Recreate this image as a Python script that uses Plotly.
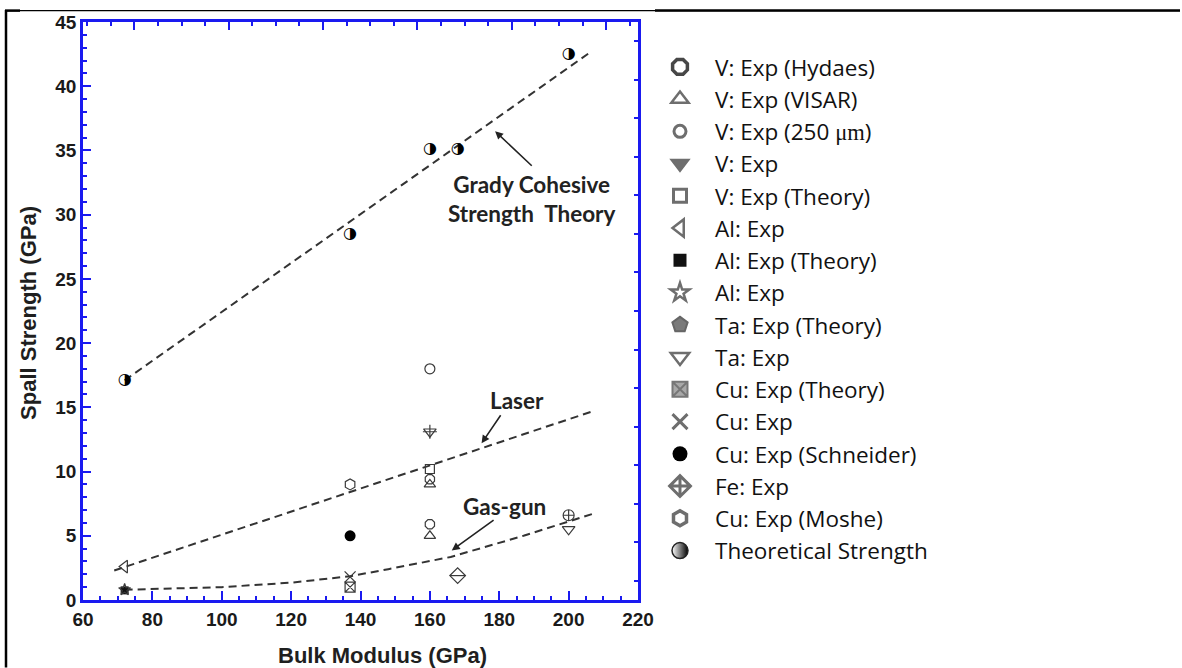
import plotly.graph_objects as go

# ---- data: bulk modulus (GPa) vs spall strength (GPa) ----
theo_x = [72, 137, 160, 168, 200]
theo_y = [17.1, 28.5, 35.1, 35.1, 42.5]

v_hydaes_x = [160, 160]
v_hydaes_y = [9.4, 5.9]
v_visar_x = [160, 160]
v_visar_y = [9.0, 5.0]
v_250_x = [160]
v_250_y = [18.0]
v_exp_x = [160]
v_exp_y = [13.1]
v_theory_x = [160]
v_theory_y = [10.2]
al_exp_x = [72]
al_exp_y = [2.6]
al_theory_x = [72]
al_theory_y = [0.75]
al_star_x = [72]
al_star_y = [0.8]
ta_theory_x = [200]
ta_theory_y = [6.6]
ta_exp_x = [200]
ta_exp_y = [5.5]
cu_theory_x = [137]
cu_theory_y = [1.0]
cu_exp_x = [137]
cu_exp_y = [1.8]
cu_schneider_x = [137]
cu_schneider_y = [5.0]
fe_exp_x = [168]
fe_exp_y = [1.9]
cu_moshe_x = [137]
cu_moshe_y = [9.0]

# trend curves
grady_x = [72, 206]
grady_y = [17.1, 42.6]
laser_x = [69, 207]
laser_y = [2.3, 14.7]
gasgun_x = [72, 100, 120, 137, 148, 166, 187, 208]
gasgun_y = [0.8, 1.0, 1.35, 1.85, 2.4, 3.35, 5.0, 6.8]

x_range = [60, 220]
y_range = [0, 45]

BLUE = "#1a1af0"
MK = "#3a3a3a"
LG = "#6e6e6e"

fig = go.Figure()

# dashed trend lines
for lx, ly in [(grady_x, grady_y), (laser_x, laser_y), (gasgun_x, gasgun_y)]:
    fig.add_trace(go.Scatter(x=lx, y=ly, mode="lines", showlegend=False,
                             line=dict(color="#333333", width=2, dash="8px,5px"),
                             hoverinfo="skip"))

# series: name, x, y, plot marker, legend marker
series = [
    ("V: Exp (Hydaes)", v_hydaes_x, v_hydaes_y,
     dict(symbol="octagon-open", size=10, color=MK, line=dict(width=1.2)),
     dict(symbol="octagon-open", size=16, color="#474747", line=dict(width=3.5))),
    ("V: Exp (VISAR)", v_visar_x, v_visar_y,
     dict(symbol="triangle-up-open", size=10, color=MK, line=dict(width=1.2)),
     dict(symbol="triangle-up-open", size=15, color=LG, line=dict(width=2.5))),
    ("V: Exp (250 <span style='font-family:Liberation Serif'>μm</span>)", v_250_x, v_250_y,
     dict(symbol="circle-open", size=10, color=MK, line=dict(width=1.2)),
     dict(symbol="circle-open", size=12, color=LG, line=dict(width=3))),
    ("V: Exp", v_exp_x, v_exp_y,
     dict(symbol="triangle-down-open", size=11, color=MK, line=dict(width=1.2)),
     dict(symbol="triangle-down", size=15, color=LG, line=dict(width=2, color=LG))),
    ("V: Exp (Theory)", v_theory_x, v_theory_y,
     dict(symbol="square-open", size=9, color=MK, line=dict(width=1.2)),
     dict(symbol="square-open", size=13, color=LG, line=dict(width=3))),
    ("Al: Exp", al_exp_x, al_exp_y,
     dict(symbol="triangle-left-open", size=11, color=MK, line=dict(width=1.2)),
     dict(symbol="triangle-left-open", size=15, color=LG, line=dict(width=2.5))),
    ("Al: Exp (Theory)", al_theory_x, al_theory_y,
     dict(symbol="square", size=8, color="#111111"),
     dict(symbol="square", size=13, color="#111111")),
    ("Al: Exp", al_star_x, al_star_y,
     dict(symbol="star-open", size=9, color=MK, line=dict(width=1.2)),
     dict(symbol="star-open", size=14, color=LG, line=dict(width=2.5))),
    ("Ta: Exp (Theory)", ta_theory_x, ta_theory_y,
     dict(symbol="circle-cross-open", size=11, color=MK, line=dict(width=1.2)),
     dict(symbol="pentagon", size=16, color="#7a7a7a", line=dict(width=2, color="#666666"))),
    ("Ta: Exp", ta_exp_x, ta_exp_y,
     dict(symbol="triangle-down-open", size=11, color=MK, line=dict(width=1.2)),
     dict(symbol="triangle-down-open", size=16, color=LG, line=dict(width=2.5))),
    ("Cu: Exp (Theory)", cu_theory_x, cu_theory_y,
     dict(symbol="square-x-open", size=10, color=MK, line=dict(width=1.2)),
     dict(symbol="square-x", size=15, color="#a8a8a8", line=dict(width=2, color="#777777"))),
    ("Cu: Exp", cu_exp_x, cu_exp_y,
     dict(symbol="x-thin-open", size=11, color=MK, line=dict(width=1.3)),
     dict(symbol="x-thin-open", size=15, color=LG, line=dict(width=3))),
    ("Cu: Exp (Schneider)", cu_schneider_x, cu_schneider_y,
     dict(symbol="circle", size=11, color="#000000"),
     dict(symbol="circle", size=15, color="#000000")),
    ("Fe: Exp", fe_exp_x, fe_exp_y,
     dict(symbol="diamond-open", size=12, color=MK, line=dict(width=1.2)),
     dict(symbol="diamond-cross-open", size=16, color=LG, line=dict(width=3))),
    ("Cu: Exp (Moshe)", cu_moshe_x, cu_moshe_y,
     dict(symbol="hexagon-open", size=11, color=MK, line=dict(width=1.2)),
     dict(symbol="hexagon-open", size=15, color=LG, line=dict(width=3.5))),
]

for i, (name, sx, sy, pm, lm) in enumerate(series):
    grp = f"g{i}"
    fig.add_trace(go.Scatter(x=sx, y=sy, mode="markers", marker=pm, name=name,
                             legendgroup=grp, showlegend=False))
    fig.add_trace(go.Scatter(x=[None], y=[None], mode="markers", marker=lm,
                             name=name, legendgroup=grp, showlegend=True))
    # extra strokes for the composite symbols
    if name == "V: Exp":
        fig.add_trace(go.Scatter(x=sx, y=sy, mode="markers", legendgroup=grp, showlegend=False,
                                 marker=dict(symbol="cross-thin-open", size=10, color=MK,
                                             line=dict(width=1.2))))
    if name == "Fe: Exp":
        fig.add_trace(go.Scatter(x=sx, y=sy, mode="markers", legendgroup=grp, showlegend=False,
                                 marker=dict(symbol="line-ew-open", size=11, color=MK,
                                             line=dict(width=1.2))))

# theoretical strength: half-filled circles
fig.add_trace(go.Scatter(x=theo_x, y=theo_y, mode="text", text=["◑"] * len(theo_x),
                         textfont=dict(family="DejaVu Sans", size=16, color="#000000"),
                         legendgroup="theo", showlegend=False, name="Theoretical Strength"))
fig.add_trace(go.Scatter(x=[None], y=[None], mode="markers", name="Theoretical Strength",
                         legendgroup="theo", showlegend=True,
                         marker=dict(symbol="circle", size=16, color="#ffffff",
                                     gradient=dict(type="horizontal", color="#000000"),
                                     line=dict(width=1.5, color="#222222"))))

# companion subplot carrying the top/right frame axes
fig.add_trace(go.Scatter(x=[None], y=[None], xaxis="x2", yaxis="y2", showlegend=False))

tick_font = dict(family="Liberation Sans", size=19, color="#1a1a1a", weight="bold")

fig.update_layout(
    width=1182, height=668,
    margin=dict(l=83, r=544, t=17, b=68),
    paper_bgcolor="white", plot_bgcolor="white",
    xaxis=dict(range=x_range, showgrid=False, zeroline=False, showline=True,
               linecolor=BLUE, linewidth=2.5, ticks="inside", ticklen=9, tickwidth=2,
               tickcolor=BLUE, tick0=60, dtick=20, tickfont=tick_font,
               minor=dict(ticks="inside", dtick=5, ticklen=4, tickwidth=1.5, tickcolor=BLUE)),
    yaxis=dict(range=y_range, showgrid=False, zeroline=False, showline=True,
               linecolor=BLUE, linewidth=2.5, ticks="inside", ticklen=8, tickwidth=2,
               tickcolor=BLUE, tick0=0, dtick=5, tickfont=tick_font,
               minor=dict(ticks="inside", dtick=1, ticklen=4, tickwidth=1.5, tickcolor=BLUE)),
    xaxis2=dict(range=x_range, overlaying="x", side="top", anchor="y2", showgrid=False,
                zeroline=False, showline=True, linecolor=BLUE, linewidth=2.5,
                ticks="inside", ticklen=8, tickwidth=2, tickcolor=BLUE,
                tick0=74.8, dtick=27.2, showticklabels=False,
                minor=dict(ticks="inside", tick0=61.2, dtick=6.8, ticklen=4,
                           tickwidth=1.5, tickcolor=BLUE)),
    yaxis2=dict(range=y_range, overlaying="y", side="right", anchor="x2", showgrid=False,
                zeroline=False, showline=True, linecolor=BLUE, linewidth=2.5,
                ticks="inside", ticklen=4, tickwidth=1.5, tickcolor=BLUE,
                tick0=1.5, dtick=3, showticklabels=False),
    legend=dict(x=1.0126, xanchor="left", y=0.959, yanchor="top",
                font=dict(family="Open Sans", size=22.5, color="#111111"),
                itemwidth=60, itemsizing="trace", tracegroupgap=0,
                bgcolor="rgba(0,0,0,0)"),
    showlegend=True,
)

title_font = dict(family="Liberation Sans", size=22, color="#1f1f1f", weight="bold")
note_font = dict(family="Lato", size=22.5, color="#222222", weight="bold")

fig.add_annotation(text="Bulk Modulus (GPa)", xref="paper", yref="paper",
                   x=0.539, y=-0.096, showarrow=False, font=title_font,
                   xanchor="center", yanchor="middle")
fig.add_annotation(text="Spall Strength (GPa)", xref="paper", yref="paper",
                   x=-0.097, y=0.497, showarrow=False, font=title_font, textangle=-90,
                   xanchor="center", yanchor="middle")

# curve labels
fig.add_annotation(text="Grady Cohesive<br>Strength  Theory", x=189.4, y=31.2,
                   showarrow=False, font=note_font, align="center")
fig.add_annotation(text="Laser", x=185.0, y=15.5, showarrow=False, font=note_font)
fig.add_annotation(text="Gas-gun", x=181.6, y=7.3, showarrow=False, font=note_font)

# pointer arrows
for hx, hy, tx, ty in [(178.8, 36.5, 189.8, 33.7), (174.9, 12.2, 180.7, 14.5),
                       (166.3, 3.86, 178.8, 6.3)]:
    fig.add_annotation(x=hx, y=hy, ax=tx, ay=ty, axref="x", ayref="y", text="",
                       showarrow=True, arrowhead=2, arrowsize=1, arrowwidth=1.6,
                       arrowcolor="#222222")

# outer frame lines
px_x = lambda p: (p - 83) / 555
px_y = lambda p: (600 - p) / 583
fig.add_shape(type="line", xref="paper", yref="paper", x0=px_x(5), x1=px_x(1180),
              y0=px_y(5.5), y1=px_y(5.5), line=dict(color="black", width=1.2))
fig.add_shape(type="line", xref="paper", yref="paper", x0=px_x(5), x1=px_x(20),
              y0=px_y(5.5), y1=px_y(5.5), line=dict(color="black", width=2.5))
fig.add_shape(type="line", xref="paper", yref="paper", x0=px_x(655), x1=px_x(1180),
              y0=px_y(5.5), y1=px_y(5.5), line=dict(color="black", width=2.5))
fig.add_shape(type="line", xref="paper", yref="paper", x0=px_x(6), x1=px_x(6),
              y0=px_y(5), y1=px_y(668), line=dict(color="black", width=2.5))

fig.write_html("out.html")
